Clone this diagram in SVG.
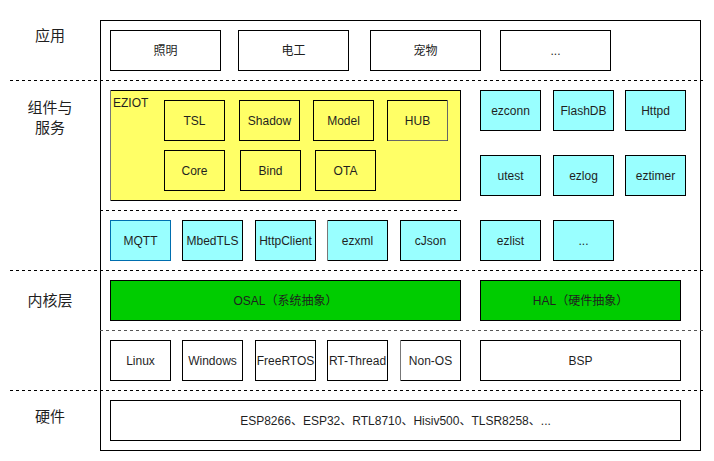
<svg xmlns="http://www.w3.org/2000/svg" width="714" height="461" viewBox="0 0 714 461">
<style>
text{font-family:"Liberation Sans",Arial,"Noto Sans CJK SC",sans-serif;font-size:12px;fill:#1f1f1f;text-anchor:middle;dominant-baseline:central}
.lbl{font-size:15px}
.b{stroke:#000;stroke-width:1}
.w{fill:#fff}
.y{fill:#ffff66}
.c{fill:#99ffff}
.g{fill:#00cc00}
.d{stroke:#000;stroke-width:1;stroke-dasharray:3 3;fill:none}
</style>
<rect width="714" height="461" fill="#fff"/>
<g id="frame"><rect x="100.5" y="20.5" width="600" height="430" fill="#fff" class="b"/></g>
<g id="separators">
<line class="d" x1="10" y1="80.5" x2="704" y2="80.5"/>
<line class="d" x1="100" y1="210.5" x2="459" y2="210.5"/>
<line class="d" x1="10" y1="270.5" x2="704" y2="270.5"/>
<line class="d" x1="100" y1="330.5" x2="704" y2="330.5" style="stroke:#555"/>
<line class="d" x1="10" y1="390.5" x2="704" y2="390.5"/>
</g>
<g id="layer-labels">
<text class="lbl" x="50" y="35">应用</text>
<text class="lbl" x="50" y="107">组件与</text>
<text class="lbl" x="50" y="127">服务</text>
<text class="lbl" x="50" y="300">内核层</text>
<text class="lbl" x="50" y="416">硬件</text>
</g>
<g id="app-zhaoming"><rect class="b w" x="110.5" y="30.5" width="110" height="40"/><text x="165.5" y="50.5">照明</text></g>
<g id="app-diangong"><rect class="b w" x="238.5" y="30.5" width="110" height="40"/><text x="293.5" y="50.5">电工</text></g>
<g id="app-chongwu"><rect class="b w" x="370.5" y="30.5" width="110" height="40"/><text x="425.5" y="50.5">宠物</text></g>
<g id="app-more"><rect class="b w" x="500.5" y="30.5" width="110" height="40"/><text x="555.5" y="50.5">...</text></g>
<g id="eziot">
<rect class="b y" x="110.5" y="90.5" width="350" height="110"/>
<line x1="110.5" y1="90" x2="110.5" y2="201" stroke="#777"/>
<text x="113" y="103" style="text-anchor:start">EZIOT</text>
</g>
<g id="tsl"><rect class="b y" x="164.5" y="100.5" width="60" height="40"/><text x="194.5" y="120.5">TSL</text></g>
<g id="shadow"><rect class="b y" x="239.5" y="100.5" width="60" height="40"/><text x="269.5" y="120.5">Shadow</text></g>
<g id="model"><rect class="b y" x="313.5" y="100.5" width="60" height="40"/><text x="343.5" y="120.5">Model</text></g>
<g id="hub"><rect class="b y" x="387.5" y="100.5" width="60" height="40"/><polyline points="447.5,100 447.5,140.5 388,140.5" fill="none" stroke="#666"/><text x="417.5" y="120.5">HUB</text></g>
<g id="core"><rect class="b y" x="164.5" y="150.5" width="60" height="40"/><text x="194.5" y="170.5">Core</text></g>
<g id="bind"><rect class="b y" x="240.5" y="150.5" width="60" height="40"/><text x="270.5" y="170.5">Bind</text></g>
<g id="ota"><rect class="b y" x="315.5" y="150.5" width="60" height="40"/><text x="345.5" y="170.5">OTA</text></g>
<g id="ezconn"><rect class="b c" x="480.5" y="90.5" width="60" height="40"/><text x="510.5" y="110.5">ezconn</text></g>
<g id="flashdb"><rect class="b c" x="553.5" y="90.5" width="60" height="40"/><text x="583.5" y="110.5">FlashDB</text></g>
<g id="httpd"><rect class="b c" x="625.5" y="90.5" width="60" height="40"/><text x="655.5" y="110.5">Httpd</text></g>
<g id="utest"><rect class="b c" x="480.5" y="155.5" width="60" height="40"/><text x="510.5" y="175.5">utest</text></g>
<g id="ezlog"><rect class="b c" x="553.5" y="155.5" width="60" height="40"/><text x="583.5" y="175.5">ezlog</text></g>
<g id="eztimer"><rect class="b c" x="625.5" y="155.5" width="60" height="40"/><text x="655.5" y="175.5">eztimer</text></g>
<g id="mqtt"><rect class="c" x="110.5" y="220.5" width="60" height="40" stroke="#006eaf"/><text x="140.5" y="240.5">MQTT</text></g>
<g id="mbedtls"><rect class="b c" x="182.5" y="220.5" width="60" height="40"/><text x="212.5" y="240.5">MbedTLS</text></g>
<g id="httpclient"><rect class="b c" x="255.5" y="220.5" width="60" height="40"/><text x="285.5" y="240.5">HttpClient</text></g>
<g id="ezxml"><rect class="b c" x="327.5" y="220.5" width="60" height="40"/><line x1="327.5" y1="220" x2="327.5" y2="261" stroke="#777"/><text x="357.5" y="240.5">ezxml</text></g>
<g id="cjson"><rect class="b c" x="400.5" y="220.5" width="60" height="40"/><text x="430.5" y="240.5">cJson</text></g>
<g id="ezlist"><rect class="b c" x="480.5" y="220.5" width="60" height="40"/><text x="510.5" y="240.5">ezlist</text></g>
<g id="comp-more"><rect class="b c" x="553.5" y="220.5" width="60" height="40"/><text x="583.5" y="240.5">...</text></g>
<g id="osal"><rect class="b g" x="110.5" y="280.5" width="350" height="40"/><text x="285.5" y="300.5">OSAL（系统抽象）</text></g>
<g id="hal"><rect class="b g" x="480.5" y="280.5" width="200" height="40"/><text x="580.5" y="300.5">HAL（硬件抽象）</text></g>
<g id="linux"><rect class="b w" x="110.5" y="340.5" width="60" height="40"/><text x="140.5" y="360.5">Linux</text></g>
<g id="windows"><rect class="b w" x="182.5" y="340.5" width="60" height="40"/><text x="212.5" y="360.5">Windows</text></g>
<g id="freertos"><rect class="b w" x="255.5" y="340.5" width="60" height="40"/><text x="285.5" y="360.5">FreeRTOS</text></g>
<g id="rtthread"><rect class="b w" x="327.5" y="340.5" width="60" height="40"/><text x="357.5" y="360.5">RT-Thread</text></g>
<g id="nonos"><rect class="b w" x="400.5" y="340.5" width="60" height="40"/><line x1="400.5" y1="340" x2="400.5" y2="381" stroke="#777"/><text x="430.5" y="360.5">Non-OS</text></g>
<g id="bsp"><rect class="b w" x="480.5" y="340.5" width="200" height="40"/><text x="580.5" y="360.5">BSP</text></g>
<g id="hardware"><rect class="b w" x="110.5" y="400.5" width="570" height="40"/><text x="395.5" y="420.5">ESP8266、ESP32、RTL8710、Hisiv500、TLSR8258、...</text></g>
<g id="connectors"></g>
</svg>
